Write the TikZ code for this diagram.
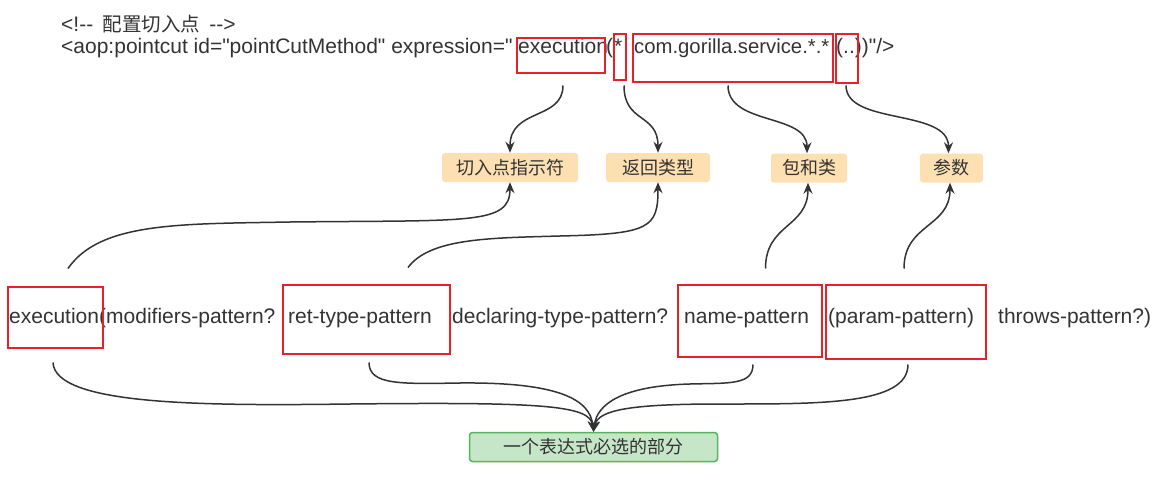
\documentclass[tikz,border=0pt]{standalone}
\usepackage{fontspec}
\newfontfamily\lat{Liberation Sans}
\newfontfamily\cjk{Noto Sans CJK SC}
\usetikzlibrary{arrows.meta,calc}
\definecolor{txt}{HTML}{333333}
\definecolor{redbox}{HTML}{E8202A}
\definecolor{orfill}{HTML}{FDE0B2}
\definecolor{grfill}{HTML}{C6E6C8}
\definecolor{grline}{HTML}{56B45B}
\definecolor{arr}{HTML}{333333}
\tikzset{
  code/.style={font=\lat\fontsize{21}{25}\selectfont, text=txt, inner sep=0pt, anchor=base west},
  hl/.style={draw=redbox, line width=2pt, inner sep=0pt},
  tag/.style={fill=orfill, rounded corners=3pt, font=\cjk\fontsize{18}{22}\selectfont, text=txt, minimum height=29pt, inner sep=0pt},
  goal/.style={fill=grfill, draw=grline, line width=1.5pt, rounded corners=3pt, font=\cjk\fontsize{18}{22}\selectfont, text=txt, inner sep=0pt},
  link/.style={draw=arr, line width=1.5pt, -{Stealth[length=11pt,width=9pt]}}
}
\begin{document}
\begin{tikzpicture}[x=1pt,y=-1pt]
\useasboundingbox (0,0) rectangle (1171,479);
% top lines
\node[code] (c1) at (61,31) {<!-- \,{\cjk\fontsize{19.5}{22}\selectfont 配置切入点}\, -->};
\node[code] (c2a) at (61,53) {<aop:pointcut id="pointCutMethod" expression="};
\node[code] (c2b) at (518,53) {execution};
\node[code] (c2c) at (606,53) {(};
\node[code] (c2d) at (614,53) {*};
\node[code, font=\lat\fontsize{20.3}{25}\selectfont] (c2e) at (634,53) {com.gorilla.service.*.*};
\node[code] (c2f) at (836,53) {(..))"/>};
% top red boxes
\node[hl, minimum width=88pt, minimum height=35pt] (bexec) at (560.5,55) {};
\node[hl, minimum width=12pt, minimum height=46pt] (bstar) at (619.5,56.5) {};
\node[hl, minimum width=200pt, minimum height=48pt] (bcom) at (732.5,57.5) {};
\node[hl, minimum width=22pt, minimum height=49pt] (bpar) at (846.5,58) {};
% tags
\node[tag, minimum width=136pt] (t1) at (510,167.5) {切入点指示符};
\node[tag, minimum width=104pt] (t2) at (658,167.5) {返回类型};
\node[tag, minimum width=76pt] (t3) at (809,168) {包和类};
\node[tag, minimum width=63pt] (t4) at (951.5,168) {参数};
% bottom row text
\node[code] (d1) at (9,323) {execution(};
\node[code] (d2) at (106,323) {modifiers-pattern?};
\node[code] (d3) at (288,323) {ret-type-pattern};
\node[code] (d4) at (452,323) {declaring-type-pattern?};
\node[code] (d5) at (684,323) {name-pattern};
\node[code] (d6) at (828,323) {(param-pattern)};
\node[code] (d7) at (998,323) {throws-pattern?)};
% bottom red boxes
\node[hl, minimum width=95pt, minimum height=61pt] (b1) at (55,317) {};
\node[hl, minimum width=167pt, minimum height=69pt] (b2) at (366,319) {};
\node[hl, minimum width=144pt, minimum height=72pt] (b3) at (749.5,320.5) {};
\node[hl, minimum width=160pt, minimum height=74pt] (b4) at (905.5,321.5) {};
% goal
\node[goal, minimum width=248pt, minimum height=29pt] (g) at (593.5,447) {一个表达式必选的部分};
% connectors top boxes -> tags
\draw[link] ($(bexec.south)+(2.5,12)$) .. controls +(0,35) and ($(t1.north)+(0,-45)$) .. (t1.north);
\draw[link] ($(bstar.south)+(4.5,5)$) .. controls +(0,38) and ($(t2.north)+(0,-40)$) .. (t2.north);
\draw[link] ($(bcom.south)+(-4.5,3)$) .. controls +(0,40) and ($(t3.north)+(-2,-40)$) .. ($(t3.north)+(-2,0)$);
\draw[link] ($(bpar.south)+(-0.5,2)$) .. controls +(0,40) and ($(t4.north)+(-3,-45)$) .. ($(t4.north)+(-3,0)$);
% connectors bottom boxes -> tags
\coordinate (u1) at (290,222);
\coordinate (u2) at (560,236);
\draw[link] ($(b1.north)+(13,-17)$) .. controls (100,222) and (180,224) .. (u1) .. controls (470,220) and (510,225) .. (t1.south);
\draw[link] ($(b2.north)+(42,-16)$) .. controls (430,238) and (490,238) .. (u2) .. controls (650,234) and (658,228) .. (t2.south);
\draw[link] ($(b3.north)+(16,-15)$) .. controls +(0,-45) and ($(t3.south)+(-1,45)$) .. ($(t3.south)+(-1,0)$);
\draw[link] ($(b4.north)+(-1.5,-15)$) .. controls +(0,-45) and ($(t4.south)+(-1.5,45)$) .. ($(t4.south)+(-1.5,0)$);
% connectors bottom boxes -> goal
\coordinate (v1) at (350,404);
\coordinate (v2) at (460,383);
\coordinate (v3) at (690,384);
\coordinate (v4) at (720,404);
\draw[link] ($(b1.south)+(-2,14)$) .. controls (55,405) and (200,406) .. (v1) .. controls (540,402) and (590,405) .. (g.north);
\draw[link] ($(b2.south)+(3,8)$) .. controls (369,385) and (400,384) .. (v2) .. controls (560,382) and (590,400) .. (g.north);
\draw[link] ($(b3.south)+(3.5,7)$) .. controls (753,385) and (730,383) .. (v3) .. controls (620,386) and (597,405) .. (g.north);
\draw[link] ($(b4.south)+(2.5,5)$) .. controls (908,405) and (820,404) .. (v4) .. controls (630,404) and (598,410) .. (g.north);
\end{tikzpicture}
\end{document}
